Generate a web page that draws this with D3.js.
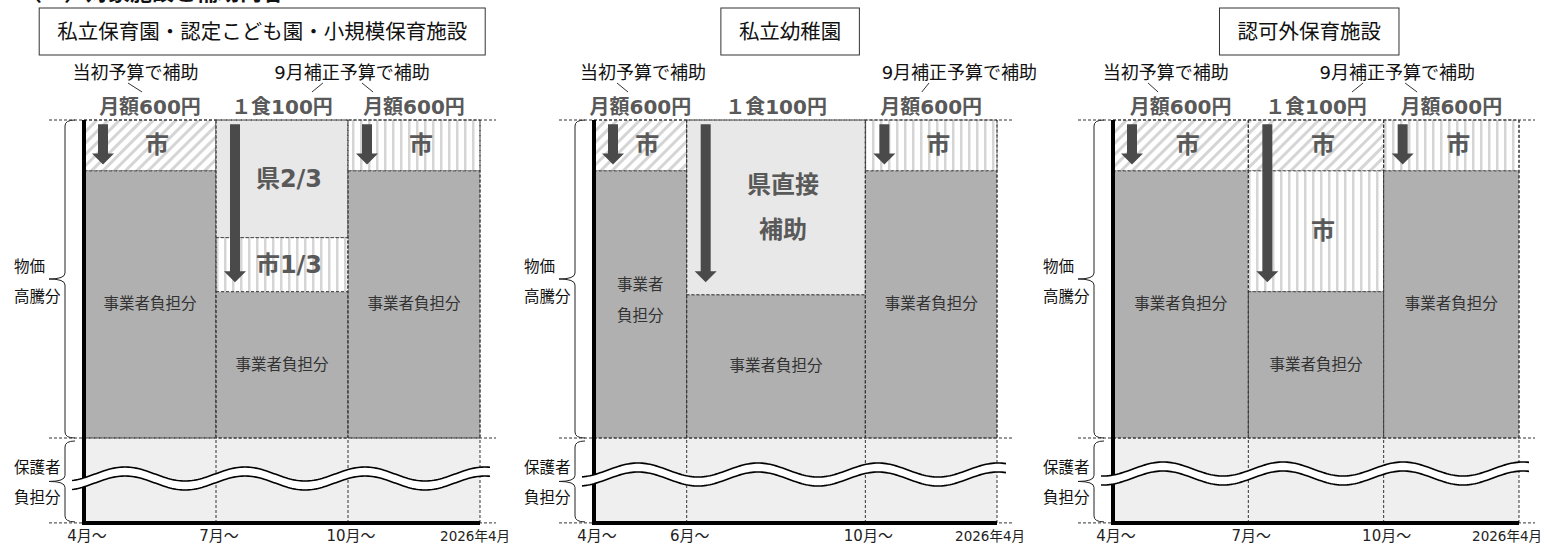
<!DOCTYPE html>
<html>
<head>
<meta charset="utf-8">
<script src="https://cdn.jsdelivr.net/npm/d3@7"></script>
<style>
  body { margin: 0; background: #fff; }
  svg { display: block; font-family: "DejaVu Sans", "Noto Sans CJK JP", sans-serif; }
</style>
</head>
<body>
<div id="chart"></div>
<script>
const panelTitles = ["私立保育園・認定こども園・小規模保育施設", "私立幼稚園", "認可外保育施設"];
const monthTicks = [
  ["4月～", "7月～", "10月～", "2026年4月"],
  ["4月～", "6月～", "10月～", "2026年4月"],
  ["4月～", "7月～", "10月～", "2026年4月"]
];
// column edges in column units (the kindergarten panel has uneven periods)
const colBounds = [[0, 1, 2, 3], [0, 0.69, 2.02, 3], [0, 1, 2, 3]];
const amountLabels = ["月額600円", "１食100円", "月額600円"];
const budgetLabels = ["当初予算で補助", "9月補正予算で補助"];
const budgetPos = [[0.39, 2.03], [0.365, 2.72], [0.39, 2.1]];
const titlePos = [1.35, 1.46, 1.45];
// little leader strokes between budget text and amounts: [from, to] in column units
const leaders = [
  [[0.333, 0.44], [1.81, 1.727], [2.106, 2.19]],
  [[0.171, 0.253], [2.494, 2.44]],
  [[0.259, 0.333], [1.848, 1.766], [2.158, 2.247]]
];
// stacked pieces per column: [top, bottom, kind, label]  (100 = top of 物価高騰分, 0 = its bottom)
const segments = [
  [
    [[100, 84, "diag", "市"], [84, 0, "grey", "事業者負担分"]],
    [[100, 63, "light", "県2/3"], [63, 46, "vert", "市1/3"], [46, 0, "grey", "事業者負担分"]],
    [[100, 84, "vert", "市"], [84, 0, "grey", "事業者負担分"]]
  ],
  [
    [[100, 84, "diag", "市"], [84, 0, "grey", "事業者|負担分"]],
    [[100, 45, "light", "県直接|補助"], [45, 0, "grey", "事業者負担分"]],
    [[100, 84, "vert", "市"], [84, 0, "grey", "事業者負担分"]]
  ],
  [
    [[100, 84, "diag", "市"], [84, 0, "grey", "事業者負担分"]],
    [[100, 84, "diag", "市"], [84, 46, "vert", "市"], [46, 0, "grey", "事業者負担分"]],
    [[100, 84, "vert", "市"], [84, 0, "grey", "事業者負担分"]]
  ]
];
const arrowEnds = [86, 49, 86];
const arrowTop = 98.7;
const parentBottom = -26.7; // bottom of 保護者負担分
const sideLabels = [["物価", "高騰分"], ["保護者", "負担分"]];

// layout
const width = 1544, height = 547;
const panelLeft = [84, 594, 1113];
const panelWidth = [396, 403, 406];
const lastTickEnd = [30, 28, 24];
const waveY = [474, 470, 469];
const wavePhase = [41, 44, 50];

const fills = { grey: "#b0b0b0", light: "#e8e8e8", diag: "url(#diag)", vert: "url(#vert)" };

const svg = d3.select("#chart").append("svg")
  .attr("width", width)
  .attr("height", height);

const defs = svg.append("defs");
const diag = defs.append("pattern").attr("id", "diag")
  .attr("patternUnits", "userSpaceOnUse").attr("width", 8).attr("height", 8)
  .attr("patternTransform", "rotate(45)");
diag.append("rect").attr("width", 8).attr("height", 8).attr("fill", "#fff");
diag.append("rect").attr("width", 3).attr("height", 8).attr("fill", "#d5d5d5");
const vert = defs.append("pattern").attr("id", "vert")
  .attr("patternUnits", "userSpaceOnUse").attr("width", 8).attr("height", 8);
vert.append("rect").attr("width", 8).attr("height", 8).attr("fill", "#fff");
vert.append("rect").attr("width", 2.5).attr("height", 8).attr("fill", "#d5d5d5");

svg.append("rect").attr("width", width).attr("height", height).attr("fill", "#fff");

// heading cut off at the top edge of the crop
svg.append("text").attr("x", 20).attr("y", 0)
  .attr("font-size", 22).attr("font-weight", "bold").attr("fill", "#111")
  .text("（３）対象施設と補助内容");

const y = d3.scaleLinear().domain([0, 100]).range([438, 120]);

function multiText(g, str, cx, cy, gap) {
  const parts = str.split("|");
  parts.forEach((t, i) => {
    g.append("text")
      .attr("x", cx)
      .attr("y", cy + (i - (parts.length - 1) / 2) * gap)
      .attr("text-anchor", "middle")
      .attr("dominant-baseline", "central")
      .text(t);
  });
}

function bracePath(xr, xl, xp, top, bot) {
  const mid = (top + bot) / 2, r = 6;
  return `M${xr},${top} Q${xl},${top} ${xl},${top + r} L${xl},${mid - r} Q${xl},${mid} ${xp},${mid}` +
    ` Q${xl},${mid} ${xl},${mid + r} L${xl},${bot - r} Q${xl},${bot} ${xr},${bot}`;
}

panelTitles.forEach((title, p) => {
  const g = svg.append("g");
  const x = d3.scaleLinear().domain([0, 3]).range([panelLeft[p], panelLeft[p] + panelWidth[p]]);
  const left = x(0), right = x(3);
  const bounds = colBounds[p];
  const yTop = y(100), yMid = y(0), yBot = y(parentBottom);

  // title box
  const tg = g.append("g");
  const tt = tg.append("text")
    .attr("x", x(titlePos[p])).attr("y", 32)
    .attr("text-anchor", "middle").attr("dominant-baseline", "central")
    .attr("font-size", 20.5).attr("fill", "#111")
    .text(title);
  const bb = tt.node().getBBox();
  tg.insert("rect", "text")
    .attr("x", bb.x - 18).attr("y", 8)
    .attr("width", bb.width + 36).attr("height", 47)
    .attr("fill", "#fff").attr("stroke", "#333").attr("stroke-width", 1);

  // budget captions + leaders
  budgetLabels.forEach((t, i) => {
    g.append("text")
      .attr("x", x(budgetPos[p][i])).attr("y", 72)
      .attr("text-anchor", "middle").attr("dominant-baseline", "central")
      .attr("font-size", 18).attr("fill", "#111")
      .text(t);
  });
  leaders[p].forEach(l => {
    g.append("line")
      .attr("x1", x(l[0])).attr("y1", 83)
      .attr("x2", x(l[1])).attr("y2", 92)
      .attr("stroke", "#333").attr("stroke-width", 1);
  });
  amountLabels.forEach((t, c) => {
    g.append("text")
      .attr("x", x((bounds[c] + bounds[c + 1]) / 2)).attr("y", 107)
      .attr("text-anchor", "middle").attr("dominant-baseline", "central")
      .attr("font-size", 20).attr("font-weight", "bold").attr("fill", "#595959")
      .text(t);
  });

  // parents' share band
  g.append("rect")
    .attr("x", left).attr("y", yMid)
    .attr("width", right - left).attr("height", yBot - yMid)
    .attr("fill", "#efefef");

  // stacked pieces
  segments[p].forEach((col, c) => {
    const x0 = x(bounds[c]), x1 = x(bounds[c + 1]);
    col.forEach(s => {
      g.append("rect")
        .attr("x", x0).attr("y", y(s[0]))
        .attr("width", x1 - x0).attr("height", y(s[1]) - y(s[0]))
        .attr("fill", fills[s[2]])
        .attr("stroke", "#444").attr("stroke-width", 1)
        .attr("stroke-dasharray", "3,2");
    });
  });

  // dashed guide lines
  const dash = g.append("g").attr("stroke", "#333").attr("stroke-width", 1).attr("stroke-dasharray", "3,2");
  [yTop, yMid, yBot].forEach(v => {
    dash.append("line").attr("x1", left - 35).attr("x2", right + 16).attr("y1", v).attr("y2", v);
  });
  bounds.slice(1).forEach(b => {
    dash.append("line").attr("x1", x(b)).attr("x2", x(b)).attr("y1", yTop).attr("y2", yBot);
  });

  // arrows
  arrowEnds.forEach((e, c) => {
    const ax = x(bounds[c]) + 19;
    const t0 = y(arrowTop), tip = y(e);
    const sw = 5, hw = 11, hl = 11;
    g.append("path")
      .attr("d", `M${ax - sw},${t0} L${ax + sw},${t0} L${ax + sw},${tip - hl} L${ax + hw},${tip - hl}` +
        ` L${ax},${tip} L${ax - hw},${tip - hl} L${ax - sw},${tip - hl} Z`)
      .attr("fill", "#4a4a4a");
  });

  // labels inside pieces
  segments[p].forEach((col, c) => {
    const cx = x((bounds[c] + bounds[c + 1]) / 2);
    col.forEach(s => {
      const cy = (y(s[0]) + y(s[1])) / 2;
      if (s[2] === "grey") {
        const lg = g.append("g").attr("font-size", 15.5).attr("fill", "#333");
        multiText(lg, s[3], cx, s[3].includes("|") ? cy - 4 : cy, 31);
      } else {
        const lg = g.append("g").attr("font-size", 24).attr("font-weight", "bold").attr("fill", "#595959");
        multiText(lg, s[3], cx + 7, cy, 45);
      }
    });
  });

  // axes
  g.append("line").attr("x1", left).attr("x2", left).attr("y1", yTop).attr("y2", yBot + 2)
    .attr("stroke", "#000").attr("stroke-width", 4);
  g.append("line").attr("x1", left - 2).attr("x2", right).attr("y1", yBot).attr("y2", yBot)
    .attr("stroke", "#000").attr("stroke-width", 4);

  // wavy break
  const crest = left + wavePhase[p], period = 120, amp = 7, gap = 9;
  const xs = d3.range(left - 12, right + 10.1, 2);
  const wy = xv => waveY[p] - amp * Math.cos(2 * Math.PI * (xv - crest) / period);
  g.append("path")
    .attr("d", d3.area().x(d => d).y0(d => wy(d)).y1(d => wy(d) + gap)(xs))
    .attr("fill", "#fff");
  [0, gap].forEach(off => {
    g.append("path")
      .attr("d", d3.line().x(d => d).y(d => wy(d) + off)(xs))
      .attr("fill", "none").attr("stroke", "#000").attr("stroke-width", 1.6);
  });

  // braces and side labels
  const br = g.append("g").attr("fill", "none").attr("stroke", "#222").attr("stroke-width", 1);
  br.append("path").attr("d", bracePath(left - 9, left - 19, left - 35, yTop, yMid));
  br.append("path").attr("d", bracePath(left - 9, left - 19, left - 35, yMid + 3, yBot - 1));
  const sl = g.append("g").attr("font-size", 15.5).attr("fill", "#111");
  sideLabels.forEach((pair, i) => {
    const cy = i === 0 ? (yTop + yMid) / 2 : (yMid + yBot) / 2;
    pair.forEach((t, j) => {
      sl.append("text")
        .attr("x", left - 70).attr("y", cy + (j === 0 ? -12 : 18))
        .attr("dominant-baseline", "central")
        .text(t);
    });
  });

  // month ticks
  monthTicks[p].forEach((t, i) => {
    const last = i === monthTicks[p].length - 1;
    g.append("text")
      .attr("x", last ? Math.min(right + lastTickEnd[p], width - 2) : x(bounds[i]) + 3)
      .attr("y", 536)
      .attr("text-anchor", last ? "end" : "middle").attr("dominant-baseline", "central")
      .attr("font-size", last ? 13.5 : 15).attr("fill", "#222")
      .text(t);
  });
});
</script>
</body>
</html>
